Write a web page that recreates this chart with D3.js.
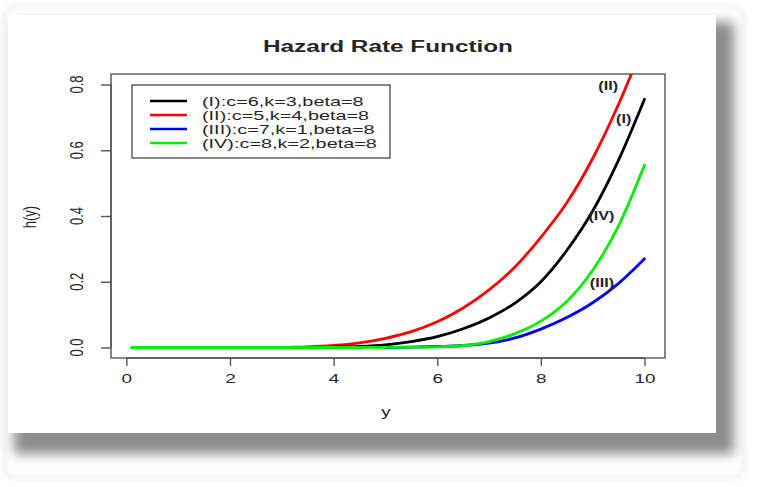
<!DOCTYPE html>
<html>
<head>
<meta charset="utf-8">
<script src="https://cdn.jsdelivr.net/npm/d3@7"></script>
<style>
  html, body { margin: 0; padding: 0; background: #fff; }
  svg { display: block; }
  text { font-family: "Liberation Sans", Arial, sans-serif; fill: #262626; }
</style>
</head>
<body>
<svg id="chart" width="759" height="487"></svg>
<script>
// Evaluation grid on y
const yGrid = [0.1, 0.5, 1, 1.5, 2, 2.5, 3, 3.2, 3.5, 4, 4.5, 5, 5.5, 6, 6.5, 7, 7.5, 8, 8.5, 9, 9.5, 10];

// Hazard rate values h(y) per parameter set (null = not drawn)
const hazardI   = [null, null, null, null, null, null, null, null, null, 0.001, 0.003, 0.008, 0.018, 0.033, 0.057, 0.09, 0.135, 0.2, 0.295, 0.415, 0.57, 0.755];
const hazardII  = [null, null, null, null, null, null, null, 0.001, 0.002, 0.006, 0.014, 0.028, 0.048, 0.078, 0.12, 0.175, 0.245, 0.335, 0.44, 0.575, 0.74, 0.93];
const hazardIII = [null, null, null, null, null, null, null, null, null, null, null, 0.0, 0.001, 0.003, 0.006, 0.013, 0.029, 0.056, 0.091, 0.136, 0.195, 0.27];
const hazardIV  = [0, 0, 0, 0, 0, 0, 0, 0, 0, 0, 0, 0.0005, 0.001, 0.002, 0.006, 0.018, 0.042, 0.08, 0.14, 0.235, 0.37, 0.555];

const seriesNames  = ["(I):c=6,k=3,beta=8", "(II):c=5,k=4,beta=8", "(III):c=7,k=1,beta=8", "(IV):c=8,k=2,beta=8"];
const seriesTags   = ["(I)", "(II)", "(III)", "(IV)"];
const seriesColors = ["#000000", "#ff0000", "#0000ff", "#00ee00"];

const xTicks = [0, 2, 4, 6, 8, 10];
const yTicks = [0.0, 0.2, 0.4, 0.6, 0.8];

// the figure is rendered wide: glyphs are stretched horizontally
const STRETCH = 1.45;
function widen(sel, k) {
  sel.each(function () {
    const w = this.getComputedTextLength();
    d3.select(this).attr("textLength", w * k).attr("lengthAdjust", "spacingAndGlyphs");
  });
}

const svg = d3.select("#chart");

// ---- framed panel with soft drop shadow ----
const defs = svg.append("defs");
const blur = defs.append("filter").attr("id", "shadowBlur")
  .attr("x", "-10%").attr("y", "-10%").attr("width", "120%").attr("height", "130%");
blur.append("feGaussianBlur").attr("stdDeviation", 6);
const glow = defs.append("filter").attr("id", "glowBlur")
  .attr("x", "-10%").attr("y", "-10%").attr("width", "120%").attr("height", "130%");
glow.append("feGaussianBlur").attr("stdDeviation", 2.5);

svg.append("rect").attr("x", 4).attr("y", 6).attr("width", 740).attr("height", 472)
  .attr("rx", 12).attr("fill", "none").attr("stroke", "#d8d8d8").attr("stroke-width", 3)
  .attr("stroke-dasharray", "1 1").attr("filter", "url(#glowBlur)");
svg.append("rect").attr("x", 14).attr("y", 22).attr("width", 720).attr("height", 432)
  .attr("fill", "#8c8c8c").attr("filter", "url(#shadowBlur)");
svg.append("rect").attr("x", 8).attr("y", 15).attr("width", 708).attr("height", 418)
  .attr("fill", "#ffffff");

// ---- plot region ----
const plot = { left: 111, top: 74, right: 665, bottom: 358 };
const x = d3.scaleLinear().domain([-0.296, 10.396]).range([plot.left, plot.right]);
const y = d3.scaleLinear().domain([-0.032, 0.832]).range([plot.bottom, plot.top]);

defs.append("clipPath").attr("id", "plotClip")
  .append("rect").attr("x", plot.left).attr("y", plot.top)
  .attr("width", plot.right - plot.left).attr("height", plot.bottom - plot.top);

// title
svg.append("text").attr("x", 388).attr("y", 52).attr("text-anchor", "middle")
  .style("font-size", "16px").style("font-weight", "bold").text("Hazard Rate Function")
  .call(widen, 1.52);

// x axis
const xAxis = svg.append("g").attr("transform", `translate(0,${plot.bottom})`)
  .call(d3.axisBottom(x).tickValues(xTicks).tickSize(8).tickPadding(8).tickFormat(d3.format("d")));
xAxis.select(".domain").attr("d", `M${x(0)},0H${x(10)}`).attr("stroke", "#555").attr("stroke-width", 1.4);
xAxis.selectAll(".tick line").attr("stroke", "#555").attr("stroke-width", 1.4);
xAxis.selectAll(".tick text").style("font-size", "13px")
  .style("font-family", "Liberation Sans, Arial, sans-serif").attr("fill", "#262626")
  .call(widen, STRETCH);

// y axis: line and ticks from d3, labels rotated and widened
const yAxis = svg.append("g").attr("transform", `translate(${plot.left},0)`)
  .call(d3.axisLeft(y).tickValues(yTicks).tickSize(10).tickFormat(""));
yAxis.select(".domain").attr("d", `M0,${y(0)}V${y(0.8)}`).attr("stroke", "#555").attr("stroke-width", 1.4);
yAxis.selectAll(".tick line").attr("stroke", "#555").attr("stroke-width", 1.4);
svg.append("g").selectAll("text").data(yTicks).join("text")
  .attr("transform", d => `translate(76,${y(d)}) scale(${STRETCH},1) rotate(-90)`)
  .attr("text-anchor", "middle").attr("dy", "0.35em")
  .style("font-size", "13px").text(d3.format(".1f"));

// plot box
svg.append("rect").attr("x", plot.left).attr("y", plot.top)
  .attr("width", plot.right - plot.left).attr("height", plot.bottom - plot.top)
  .attr("fill", "none").attr("stroke", "#555").attr("stroke-width", 1.4);

// axis titles
svg.append("text").attr("x", 386).attr("y", 416).attr("text-anchor", "middle")
  .style("font-size", "13px").text("y").call(widen, STRETCH);
svg.append("text").attr("transform", `translate(29,217) scale(${STRETCH},1) rotate(-90)`)
  .attr("text-anchor", "middle").attr("dy", "0.35em")
  .style("font-size", "13px").text("h(y)");

// curves (drawn in this order so green lies on top near zero)
const seriesData = [hazardII, hazardI, hazardIII, hazardIV];
const seriesIdx = [1, 0, 2, 3];
const line = d3.line()
  .defined(d => d[1] !== null)
  .x(d => x(d[0])).y(d => y(d[1]))
  .curve(d3.curveMonotoneX);

const curves = svg.append("g").attr("clip-path", "url(#plotClip)");
seriesData.forEach((vals, i) => {
  const pts = yGrid.map((g, j) => [g, vals[j]]);
  curves.append("path").datum(pts)
    .attr("d", line).attr("fill", "none")
    .attr("stroke", seriesColors[seriesIdx[i]]).attr("stroke-width", 2.8)
    .attr("stroke-linejoin", "round").attr("stroke-linecap", "round");
});

// curve tags
const tagPos = [
  { tag: seriesTags[1], px: 9.3,  py: 0.795 },
  { tag: seriesTags[0], px: 9.6,  py: 0.697 },
  { tag: seriesTags[3], px: 9.17, py: 0.40 },
  { tag: seriesTags[2], px: 9.18, py: 0.197 }
];
svg.append("g").selectAll("text").data(tagPos).join("text")
  .attr("x", d => x(d.px)).attr("y", d => y(d.py)).attr("dy", "0.35em")
  .attr("text-anchor", "middle")
  .style("font-size", "12px").style("font-weight", "bold").attr("fill", "#333")
  .text(d => d.tag)
  .call(widen, 1.35);

// legend
const lg = svg.append("g").attr("transform", "translate(132,85)");
lg.append("rect").attr("width", 258).attr("height", 73)
  .attr("fill", "#fff").attr("stroke", "#555").attr("stroke-width", 1.4);
seriesNames.forEach((name, i) => {
  const ry = 16 + i * 14;
  lg.append("line").attr("x1", 18).attr("x2", 55).attr("y1", ry).attr("y2", ry)
    .attr("stroke", seriesColors[i]).attr("stroke-width", 2.4);
  lg.append("text").attr("x", 70).attr("y", ry).attr("dy", "0.36em")
    .style("font-size", "13.5px").text(name)
    .call(widen, 1.47);
});
</script>
</body>
</html>
